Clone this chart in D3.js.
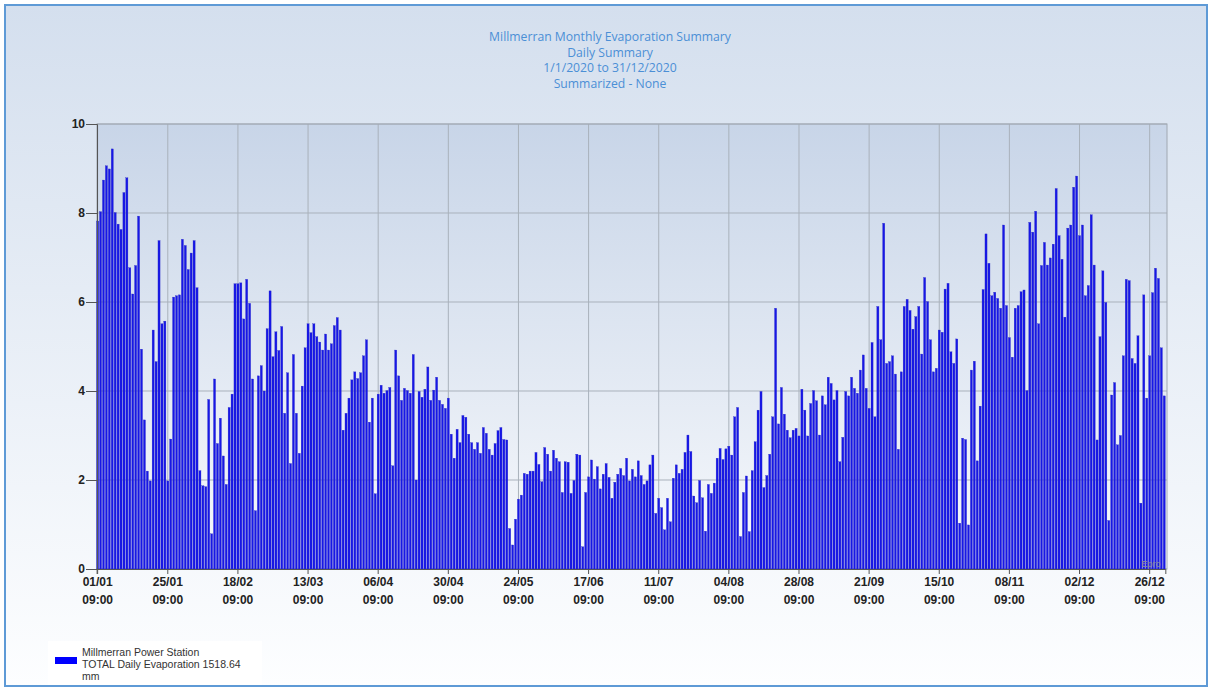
<!DOCTYPE html>
<html><head><meta charset="utf-8">
<script src="https://cdn.jsdelivr.net/npm/d3@7"></script>
<style>html,body{margin:0;padding:0;background:#fff;}svg{display:block;}</style>
</head><body>
<svg id="chart" width="1213" height="690"></svg>
<script>
const titleLines = ["Millmerran Monthly Evaporation Summary","Daily Summary","1/1/2020 to 31/12/2020","Summarized - None"];
const legendLines = ["Millmerran Power Station","TOTAL Daily Evaporation 1518.64","mm"];
const yTicks = [0,2,4,6,8,10];
const tickEvery = 24;
const timeLabel = "09:00";
const startDate = new Date(2020,0,1);
const evaporation = [
7.82,8.03,8.74,9.06,8.99,9.44,8.01,7.75,7.63,8.46,8.79,6.77,6.18,6.82,7.93,4.94,3.35,2.20,1.98,5.37,4.66,7.38,5.51,5.57,1.98,2.92,6.11,6.14,6.16,7.41,7.27,6.73,7.10,7.38,6.32,
2.21,1.87,1.85,3.81,0.79,4.27,2.82,3.39,2.54,1.90,3.63,3.93,6.41,6.41,6.43,5.62,6.51,5.97,4.27,1.31,4.34,4.57,4.00,5.40,6.25,4.77,5.33,4.91,5.45,3.50,4.41,2.37,4.82,3.50,2.60,4.11,4.97,
5.51,5.31,5.51,5.22,5.10,4.92,5.28,4.92,5.06,5.47,5.65,5.37,3.12,3.50,3.84,4.25,4.43,4.28,4.41,4.79,5.15,3.30,3.84,1.69,3.93,4.13,3.95,4.01,4.08,2.32,4.92,4.34,3.79,4.06,4.01,3.95,4.82,
2.00,3.99,3.86,4.04,4.54,3.79,4.02,4.31,3.79,3.70,3.61,3.84,3.03,2.49,3.14,2.84,3.45,3.41,3.03,2.84,2.69,2.84,2.60,3.18,3.05,2.69,2.56,2.82,3.11,3.18,2.91,2.90,0.91,0.54,1.12,1.57,1.66,
2.15,2.13,2.20,2.20,2.62,2.35,1.96,2.73,2.58,2.20,2.67,2.49,2.41,1.72,2.41,2.40,1.70,1.99,2.58,2.56,0.50,1.72,2.07,2.45,2.02,2.30,1.80,2.13,2.37,2.06,1.59,1.95,2.13,2.26,2.10,2.49,
1.98,2.24,2.07,2.43,2.10,1.90,1.98,2.34,2.56,1.25,1.59,1.38,0.88,1.59,1.06,2.04,2.34,2.15,2.24,2.62,3.01,2.64,1.64,1.49,1.99,1.60,0.85,1.90,1.70,1.93,2.49,2.71,2.46,2.70,2.76,2.56,3.42,
3.63,0.73,1.72,2.09,0.84,2.21,2.86,3.57,3.99,1.83,2.10,2.58,3.42,5.86,3.26,4.08,3.48,3.12,2.95,3.12,3.16,2.99,4.04,3.57,2.99,3.72,4.01,3.78,3.01,3.89,3.69,4.31,4.17,3.80,4.01,2.41,2.96,
3.99,3.89,4.31,4.06,3.95,4.47,4.81,4.06,3.61,5.09,3.42,5.90,5.15,7.77,4.62,4.66,4.79,4.38,2.69,4.43,5.90,6.06,5.81,5.39,5.67,5.90,4.83,6.55,6.01,5.15,4.43,4.51,5.37,5.32,6.29,6.42,
4.88,4.62,5.17,1.03,2.94,2.91,0.99,4.47,4.67,2.43,3.66,6.28,7.53,6.87,6.14,6.22,6.08,5.86,7.73,5.92,5.20,4.76,5.86,5.92,6.23,6.27,4.01,7.79,7.57,8.04,5.51,6.82,7.34,6.83,6.99,7.30,8.55,
7.49,6.96,5.66,7.66,7.73,8.58,8.83,7.49,7.73,6.14,6.37,7.96,6.83,2.90,5.22,6.70,5.99,1.09,3.91,4.19,2.79,3.00,4.79,6.51,6.48,4.73,4.62,5.24,1.48,6.16,3.84,4.79,6.21,6.76,6.53,4.97,3.89
];

const days = evaporation.map((v,i)=>d3.timeDay.offset(startDate,i));
const fmt = d3.timeFormat("%d/%m");

const svg = d3.select("#chart");
const defs = svg.append("defs");
const bgG = defs.append("linearGradient").attr("id","bg").attr("x1",0).attr("y1",0).attr("x2",0).attr("y2",1);
bgG.append("stop").attr("offset","0%").attr("stop-color","#d4dfee");
bgG.append("stop").attr("offset","100%").attr("stop-color","#fdfeff");
const plG = defs.append("linearGradient").attr("id","pl").attr("x1",0).attr("y1",0).attr("x2",0).attr("y2",1);
plG.append("stop").attr("offset","0%").attr("stop-color","#c8d5e8");
plG.append("stop").attr("offset","100%").attr("stop-color","#f7f9fc");

svg.append("rect").attr("x",5).attr("y",5).attr("width",1202).attr("height",681)
  .attr("fill","url(#bg)").attr("stroke","#5e9ad6").attr("stroke-width",2);

const L=97,R=1167,T=124,B=569;
const x = d3.scaleBand().domain(d3.range(evaporation.length)).range([96.6,96.6+2.92*evaporation.length]).paddingInner(0.28);
const y = d3.scaleLinear().domain([0,10]).range([B,T]);

svg.append("rect").attr("x",L).attr("y",T).attr("width",R-L).attr("height",B-T).attr("fill","url(#pl)");

const tickIdx = d3.range(0,evaporation.length,tickEvery);
svg.append("g").selectAll("line").data(yTicks).join("line")
  .attr("x1",L).attr("x2",R).attr("y1",d=>y(d)).attr("y2",d=>y(d)).attr("stroke","#a9b1bb").attr("stroke-width",1);
svg.append("g").selectAll("line").data(tickIdx).join("line")
  .attr("x1",d=>x(d)+x.bandwidth()/2).attr("x2",d=>x(d)+x.bandwidth()/2).attr("y1",T).attr("y2",B).attr("stroke","#a9b1bb").attr("stroke-width",1);
svg.append("rect").attr("x",L).attr("y",T).attr("width",R-L).attr("height",B-T).attr("fill","none").attr("stroke","#a0a8b2");

svg.append("g").selectAll("rect").data(evaporation).join("rect")
  .attr("x",(d,i)=>x(i)).attr("width",x.bandwidth())
  .attr("y",d=>y(d)).attr("height",d=>B-y(d))
  .attr("fill","#1717e6").attr("stroke","#2b2bc4").attr("stroke-width",0.3);

const yAxis = svg.append("g").attr("transform",`translate(${L},0)`)
  .call(d3.axisLeft(y).tickValues(yTicks).tickSize(11).tickFormat(d3.format("d")));
yAxis.select(".domain").attr("stroke","#555");
yAxis.selectAll(".tick line").attr("stroke","#555");
yAxis.selectAll("text").attr("font-family","'Liberation Sans',Arial,sans-serif").attr("font-size",12).attr("font-weight","bold").attr("fill","#222").attr("x",-12);

const xAxis = svg.append("g").attr("transform",`translate(0,${B})`)
  .call(d3.axisBottom(x).tickValues(tickIdx).tickSize(5).tickFormat(i=>fmt(days[i])));
xAxis.select(".domain").attr("stroke","#555");
xAxis.selectAll(".tick line").attr("stroke","#555");
xAxis.selectAll("text").attr("font-family","'Liberation Sans',Arial,sans-serif").attr("font-size",12).attr("font-weight","bold").attr("fill","#222")
  .each(function(i){
    const t=d3.select(this); t.text(null).attr("y",8);
    t.append("tspan").attr("x",0).attr("dy","0.71em").text(fmt(days[i]));
    t.append("tspan").attr("x",0).attr("dy","1.5em").text(timeLabel);
  });

svg.append("text").attr("x",1151).attr("y",567).attr("font-family","'Liberation Sans',Arial,sans-serif").attr("font-size",9).attr("fill","#8a9099").attr("text-anchor","middle").text("Epro");

svg.append("g").selectAll("text").data(titleLines).join("text")
  .attr("x",610).attr("y",(d,i)=>41+i*15.6).attr("text-anchor","middle")
  .attr("font-family","'Open Sans','Noto Sans',sans-serif").attr("font-size",12.2).attr("fill","#4b8fd6").text(d=>d);

svg.append("rect").attr("x",48).attr("y",641).attr("width",214).attr("height",44).attr("fill","#ffffff");
svg.append("rect").attr("x",55).attr("y",657).attr("width",22).attr("height",7).attr("fill","#0000ff");
svg.append("g").selectAll("text").data(legendLines).join("text")
  .attr("x",82).attr("y",(d,i)=>656+i*12).attr("font-family","'Liberation Sans',Arial,sans-serif").attr("font-size",10.5).attr("fill","#333").text(d=>d);
</script>
</body></html>
